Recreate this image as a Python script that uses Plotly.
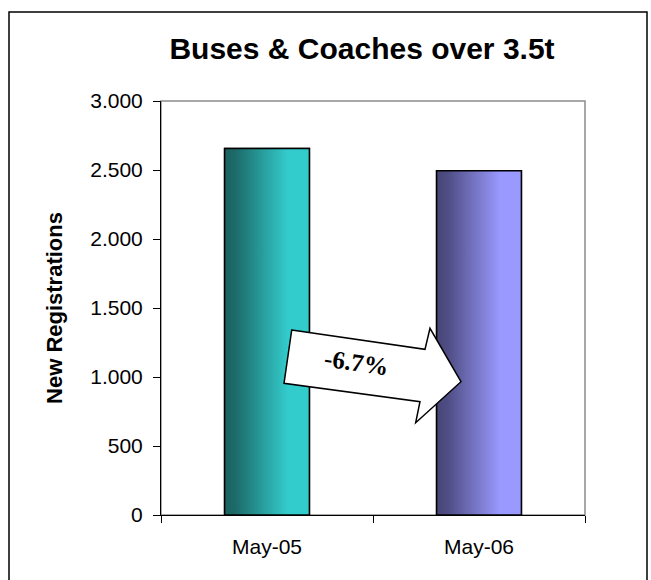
import plotly.graph_objects as go

# ---- data ----
categories = ["May-05", "May-06"]
registrations = [2655, 2495]
change_label = "-6.7%"
y_ticks = [0, 500, 1000, 1500, 2000, 2500, 3000]

# ---- styling ----
W, H = 651, 580
L, R, T, B = 161, 585, 101, 515  # plot area in pixels
def px(x):
    return (x - L) / (R - L)
def py(y):
    return (B - y) / (B - T)

gradients = [
    [[0, "#1a6260"], [0.12, "#1c6a68"], [0.75, "#33cccc"], [1, "#33cccc"]],
    [[0, "#484676"], [0.12, "#4e4c82"], [0.75, "#9999ff"], [1, "#9999ff"]],
]
solid = ["#2aa5a4", "#7f7fd0"]
half_w = 0.2

fig = go.Figure()
xs = list(range(len(categories)))
fig.add_trace(go.Bar(x=xs, y=registrations, width=2 * half_w,
                     marker=dict(color=solid, line=dict(color="black", width=1.5)),
                     hovertext=categories, showlegend=False))
for i, (c, v) in enumerate(zip(categories, registrations)):
    fig.add_trace(go.Scatter(
        x=[i - half_w, i + half_w, i + half_w, i - half_w, i - half_w],
        y=[0, 0, v, v, 0],
        mode="lines", fill="toself",
        fillgradient=dict(type="horizontal", colorscale=gradients[i]),
        line=dict(color="black", width=1.5),
        name=c, showlegend=False, hoverinfo="skip"))

font = "Liberation Sans, Arial, sans-serif"

# arrow shape (decoration) in pixel positions converted to paper
arrow_px = [(291.7, 330), (425, 349.3), (430, 328.3), (461, 381.7),
            (415.7, 422.7), (420, 401.7), (284, 383.3)]
path = "M " + " L ".join(f"{px(x):.4f},{py(y):.4f}" for x, y in arrow_px) + " Z"

shapes = [
    dict(type="rect", xref="paper", yref="paper", x0=px(9), x1=px(647), y0=py(600), y1=py(12),
         line=dict(color="black", width=1.5), fillcolor="white", layer="below"),
    dict(type="rect", xref="paper", yref="paper", x0=0, x1=1, y0=0, y1=1,
         line=dict(color="#8c8c8c", width=1.5), layer="below"),
    dict(type="path", xref="paper", yref="paper", path=path,
         line=dict(color="black", width=1.5), fillcolor="white", layer="above"),
]

fig.update_layout(
    width=W, height=H,
    margin=dict(l=L, r=W - R, t=T, b=H - B, pad=0),
    paper_bgcolor="white", plot_bgcolor="white",
    separators=",.",
    barmode="overlay",
    title=dict(text="<b>Buses & Coaches over 3.5t</b>", x=362 / W, xref="container", xanchor="center",
               y=1 - 48 / H, yref="container", yanchor="middle",
               font=dict(family=font, size=30, color="black")),
    xaxis=dict(range=[-0.5, 1.5], tickvals=xs, ticktext=categories, ticks="",
               showgrid=False, zeroline=False, showline=True, linecolor="black", linewidth=1,
               tickfont=dict(family=font, size=21, color="black"), ticklabelstandoff=13,
               minor=dict(ticks="outside", tick0=-0.5, dtick=1, ticklen=7, tickcolor="black",
                          tickwidth=1, showgrid=False)),
    yaxis=dict(range=[0, 3000], tickvals=y_ticks, tickformat=",d", ticks="outside", ticklen=7,
               tickcolor="black", showgrid=False, zeroline=False, showline=True,
               linecolor="black", linewidth=1, ticklabelstandoff=6,
               tickfont=dict(family=font, size=21, color="black"),
               title=dict(text="<b>New Registrations</b>", standoff=21,
                          font=dict(family=font, size=22, color="black"))),
    shapes=shapes,
    annotations=[dict(text=f"<b>{change_label}</b>", xref="paper", yref="paper",
                      x=px(356.5), y=py(363), showarrow=False, textangle=8,
                      font=dict(family="Liberation Serif, Times New Roman, serif", size=25, color="black"))],
)

fig.write_html("out.html", config={"displayModeBar": False},
               post_script="document.body.style.margin='0';document.body.style.overflow='hidden';")
